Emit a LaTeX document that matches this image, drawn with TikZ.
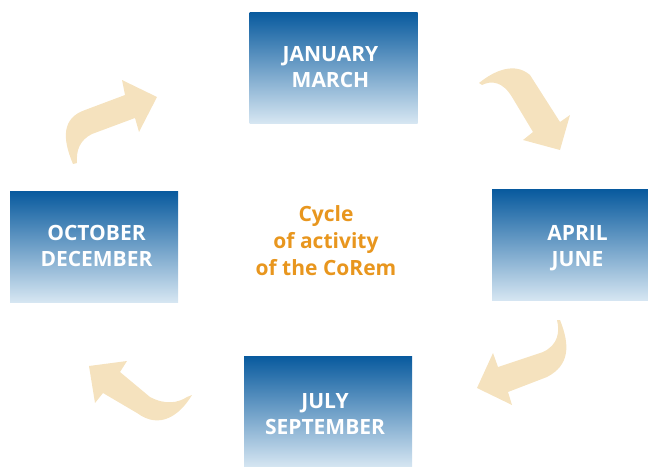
\documentclass[tikz,border=0pt]{standalone}
\usepackage{fontspec}
\setmainfont{Open Sans}
\begin{document}
\definecolor{boxtop}{RGB}{8,90,158}
\definecolor{boxbot}{RGB}{214,230,242}
\definecolor{arrowfill}{RGB}{245,226,190}
\definecolor{cycletext}{RGB}{232,150,30}
\begin{tikzpicture}[x=1pt,y=-1pt,
  period/.style={inner sep=0pt, minimum width=168pt, minimum height=111pt,
    top color=boxtop, bottom color=boxbot},
  periodtext/.style={inner sep=0pt, text=white,
    font=\fontsize{21}{26}\selectfont\bfseries, align=center},
  curvedarrow/.style={fill=arrowfill, draw=none}]
\useasboundingbox (0,0) rectangle (648,466);

% four quarter boxes with their labels
\node[period] (q1) at (333.5,67.5) {};
\node[periodtext] (q1text) at ([xshift=-3pt,yshift=0pt]q1.center) {JANUARY\\MARCH};
\node[period, minimum width=156pt] (q2) at (570,245) {};
\node[periodtext] (q2text) at ([xshift=7.5pt,yshift=-3pt]q2.center) {APRIL\\JUNE};
\node[period] (q3) at (328,411.5) {};
\node[periodtext] (q3text) at ([xshift=-3pt,yshift=-2.5pt]q3.center) {JULY\\SEPTEMBER};
\node[period] (q4) at (94,246.5) {};
\node[periodtext] (q4text) at ([xshift=2.5pt,yshift=1pt]q4.center) {OCTOBER\\DECEMBER};

% centre title
\node[text=cycletext, font=\fontsize{21}{27}\selectfont\bfseries, align=center]
  (title) at (326,240.5) {Cycle\\of activity\\of the CoRem};

% curved arrows between the quarters
\fill[curvedarrow] (73,164) .. controls (62,138) and (62,118) .. (85,110)
  -- (125,95) -- (122,80) -- (157,97) -- (139,132) -- (135,118)
  -- (92,134) .. controls (80,140) and (76,150) .. (77,163) -- cycle;

\fill[curvedarrow] (479,83) .. controls (495,70) and (515,62) .. (530,75)
  -- (560,122) -- (570,115) -- (560,150) -- (523,140) -- (533,132)
  -- (512,97) .. controls (503,82) and (492,80) .. (482,85) -- cycle;

\fill[curvedarrow] (560,320) .. controls (570,345) and (570,365) .. (547,377)
  -- (508,392) -- (512,405) -- (477,388) -- (493,353) -- (498,367)
  -- (543,352) .. controls (558,345) and (560,332) .. (557,320) -- cycle;

\fill[curvedarrow] (192,395) .. controls (180,415) and (160,430) .. (137,413)
  -- (103,393) -- (95,403) -- (89,366) -- (127,361) -- (120,372)
  -- (150,397) .. controls (165,405) and (178,403) .. (187,397) -- cycle;
\end{tikzpicture}
\end{document}
